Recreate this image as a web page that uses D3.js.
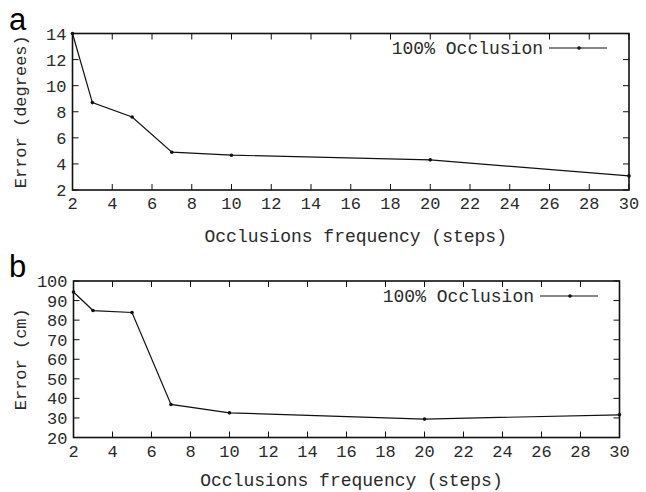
<!DOCTYPE html>
<html>
<head>
<meta charset="utf-8">
<script src="https://cdn.jsdelivr.net/npm/d3@7"></script>
<style>
  body { margin: 0; background: #fff; }
  svg { display: block; }
  text { font-family: "Liberation Mono", "DejaVu Sans Mono", monospace; fill: #2a2a2a; }
</style>
</head>
<body>
<svg width="646" height="492"></svg>
<script>
const steps = [2, 3, 5, 7, 10, 20, 30]
const errorDegrees = [14, 8.7, 7.6, 4.9, 4.67, 4.31, 3.08]
const errorCm = [94.4, 84.9, 83.9, 36.9, 32.6, 29.4, 31.6]
const xTicks = [2, 4, 6, 8, 10, 12, 14, 16, 18, 20, 22, 24, 26, 28, 30]
const yTicksA = [2, 4, 6, 8, 10, 12, 14]
const yTicksB = [20, 30, 40, 50, 60, 70, 80, 90, 100]
const seriesName = '100% Occlusion'
const xTitle = 'Occlusions frequency (steps)'

const svg = d3.select('svg')

const drawPanel = (opts) => {
  const { letter, values, yDomain, yTicks, yTitle, left, right, top, bottom, legendEnd, legendY, titleGap } = opts
  const x = d3.scaleLinear().domain([2, 30]).range([left, right])
  const y = d3.scaleLinear().domain(yDomain).range([bottom, top])
  const g = svg.append('g')
  const tick = 6

  // frame
  g.append('rect')
   .attr('x', left).attr('y', top)
   .attr('width', right - left).attr('height', bottom - top)
   .attr('fill', 'none').attr('stroke', '#111').attr('stroke-width', 1.6)

  // ticks, mirrored on all sides
  xTicks.forEach(v => {
    g.append('line').attr('x1', x(v)).attr('x2', x(v)).attr('y1', bottom).attr('y2', bottom - tick)
     .attr('stroke', '#111')
    g.append('line').attr('x1', x(v)).attr('x2', x(v)).attr('y1', top).attr('y2', top + tick)
     .attr('stroke', '#111')
    g.append('text').attr('x', x(v)).attr('y', bottom + 19)
     .attr('text-anchor', 'middle').style('font-size', '17px').text(v)
  })
  yTicks.forEach(v => {
    g.append('line').attr('x1', left).attr('x2', left + tick).attr('y1', y(v)).attr('y2', y(v))
     .attr('stroke', '#111')
    g.append('line').attr('x1', right).attr('x2', right - tick).attr('y1', y(v)).attr('y2', y(v))
     .attr('stroke', '#111')
    g.append('text').attr('x', left - 6).attr('y', y(v) + 6)
     .attr('text-anchor', 'end').style('font-size', '17px').text(v)
  })

  // series
  const pts = steps.map((s, i) => [s, values[i]])
  g.append('path')
   .attr('d', d3.line().x(d => x(d[0])).y(d => y(d[1]))(pts))
   .attr('fill', 'none').attr('stroke', '#111').attr('stroke-width', 1.2)
  g.selectAll('circle.pt').data(pts).join('circle')
   .attr('cx', d => x(d[0])).attr('cy', d => y(d[1])).attr('r', 1.8).attr('fill', '#111')

  // legend
  g.append('text').attr('x', legendEnd).attr('y', legendY + 6)
   .attr('text-anchor', 'end').style('font-size', '18px').text(seriesName)
  g.append('line').attr('x1', legendEnd + 6).attr('x2', legendEnd + 64)
   .attr('y1', legendY).attr('y2', legendY).attr('stroke', '#111').attr('stroke-width', 1.2)
  g.append('circle').attr('cx', legendEnd + 36).attr('cy', legendY).attr('r', 1.8).attr('fill', '#111')

  // titles
  g.append('text').attr('x', (left + right) / 2 + 5).attr('y', bottom + titleGap)
   .attr('text-anchor', 'middle').style('font-size', '18px').text(xTitle)
  g.append('text')
   .attr('transform', `translate(26, ${(top + bottom) / 2}) rotate(-90)`)
   .attr('text-anchor', 'middle').style('font-size', '17px').text(yTitle)

  svg.append('text').attr('x', 9).attr('y', top - 4)
   .style('font-family', '"Liberation Sans", Arial, sans-serif')
   .style('font-size', '31px').style('fill', '#000').text(letter)
}

drawPanel({ letter: 'a', values: errorDegrees, yDomain: [2, 14], yTicks: yTicksA, yTitle: 'Error (degrees)',
  left: 72.5, right: 629, top: 33.5, bottom: 190, legendEnd: 543, legendY: 48, titleGap: 52 })
drawPanel({ letter: 'b', values: errorCm, yDomain: [20, 100], yTicks: yTicksB, yTitle: 'Error (cm)',
  left: 73.5, right: 619.5, top: 281, bottom: 437.5, legendEnd: 534, legendY: 296, titleGap: 48 })
</script>
</body>
</html>
